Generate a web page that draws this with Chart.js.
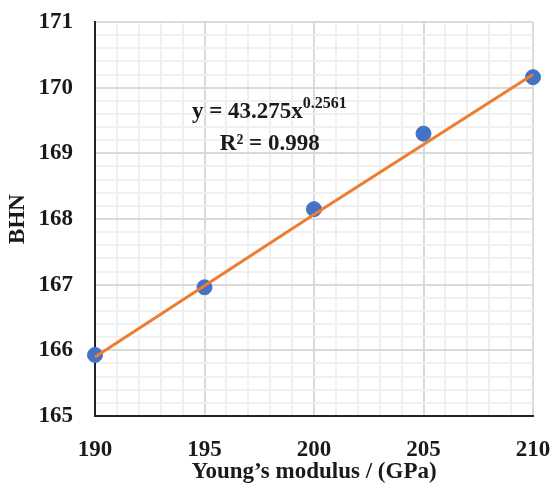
<!DOCTYPE html>
<html>
<head>
<meta charset="utf-8">
<script src="https://cdn.jsdelivr.net/npm/chart.js@4/dist/chart.umd.min.js"></script>
<style>
  html, body { margin: 0; padding: 0; background: #fff; }
  #wrap { width: 552px; height: 489px; }
</style>
</head>
<body>
<div id="wrap"><canvas id="bhn_chart"></canvas></div>
<script>
const youngsModulus = [190, 195, 200, 205, 210];
const bhnValues = [165.93, 166.96, 168.15, 169.30, 170.16];
const trendX = [190, 200, 210];
const trendY = [165.90, 168.07, 170.20];
const equationText = 'y = 43.275x';
const equationPower = '0.2561';
const rSquaredText = 'R² = 0.998';

const serif = "'Liberation Serif', 'Times New Roman', serif";
const isMajor = (v, step) => Math.abs(v / step - Math.round(v / step)) < 1e-6;

// trendline equation label, placed with the chart's own scales
const equationLabel = {
  id: 'equationLabel',
  afterDraw(chart) {
    const { ctx, scales: { x, y } } = chart;
    const left = x.getPixelForValue(194.43);
    const base1 = y.getPixelForValue(169.54);
    const base2 = y.getPixelForValue(169.05);
    ctx.save();
    ctx.fillStyle = '#1a1a1a';
    ctx.textBaseline = 'alphabetic';
    ctx.textAlign = 'left';
    ctx.font = 'bold 23px ' + serif;
    ctx.fillText(equationText, left, base1);
    const w = ctx.measureText(equationText).width;
    ctx.font = 'bold 16px ' + serif;
    ctx.fillText(equationPower, left + w, base1 - 10);
    ctx.font = 'bold 23px ' + serif;
    ctx.fillText(rSquaredText, x.getPixelForValue(195.7), base2);
    ctx.restore();
  }
};

const chart = new Chart(document.getElementById('bhn_chart').getContext('2d'), {
  type: 'scatter',
  data: {
    datasets: [
      {
        label: 'Trend',
        type: 'line',
        data: trendX.map((v, i) => ({ x: v, y: trendY[i] })),
        borderColor: '#ED7D31',
        borderWidth: 3,
        pointRadius: 0,
        tension: 0,
        order: 1,
      },
      {
        label: 'BHN',
        data: youngsModulus.map((v, i) => ({ x: v, y: bhnValues[i] })),
        backgroundColor: '#4472C4',
        borderColor: '#4472C4',
        pointRadius: 7.5,
        order: 2,
      },
    ],
  },
  options: {
    responsive: true,
    maintainAspectRatio: false,
    animation: false,
    clip: false,
    layout: { padding: { top: 0, right: 0, bottom: 0, left: 4 } },
    plugins: { legend: { display: false }, tooltip: { enabled: false } },
    scales: {
      x: {
        type: 'linear',
        min: 190,
        max: 210,
        afterFit: (scale) => {
          scale.height = 73;
          scale.paddingRight = 19;
          scale.paddingLeft = 0;
        },
        ticks: {
          stepSize: 1,
          autoSkip: false,
          maxRotation: 0,
          padding: 20,
          color: '#1a1a1a',
          font: { family: serif, size: 23, weight: 'bold' },
          callback: (v) => (isMajor(v, 5) ? v : ''),
        },
        grid: {
          drawTicks: false,
          lineWidth: 2,
          color: (c) => (isMajor(c.tick.value, 5) ? '#dadada' : '#f0f0f0'),
        },
        border: { color: '#222', width: 2 },
        title: {
          display: true,
          text: 'Young’s modulus / (GPa)',
          color: '#1a1a1a',
          font: { family: serif, size: 23, weight: 'bold' },
          padding: { top: 0, bottom: 3 },
        },
      },
      y: {
        min: 165,
        max: 171,
        afterFit: (scale) => {
          scale.width = 91;
          scale.paddingTop = 22;
          scale.paddingBottom = 0;
        },
        ticks: {
          stepSize: 0.2,
          autoSkip: false,
          padding: 22,
          color: '#1a1a1a',
          font: { family: serif, size: 23, weight: 'bold' },
          callback: (v) => (isMajor(v, 1) ? Math.round(v) : ''),
        },
        grid: {
          drawTicks: false,
          lineWidth: 2,
          color: (c) => (isMajor(c.tick.value, 1) ? '#dadada' : '#f0f0f0'),
        },
        border: { color: '#222', width: 2 },
        title: {
          display: true,
          text: 'BHN',
          color: '#1a1a1a',
          font: { family: serif, size: 23, weight: 'bold' },
          padding: { top: 0, bottom: 0 },
        },
      },
    },
  },
  plugins: [equationLabel],
});
</script>
</body>
</html>
